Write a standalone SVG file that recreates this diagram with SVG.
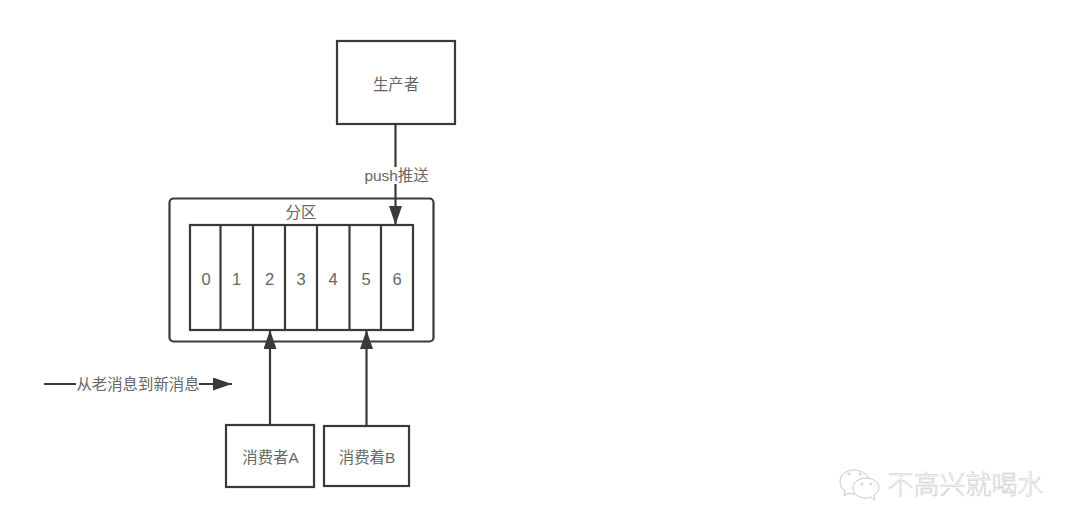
<svg xmlns="http://www.w3.org/2000/svg" width="1080" height="532" viewBox="0 0 1080 532">
<style>
.b{fill:#fff;stroke:#3a3a3a;stroke-width:2.2}
.c{fill:none;stroke:#3a3a3a;stroke-width:2.2}
.t{font-family:"Liberation Sans","Noto Sans CJK SC",sans-serif;font-size:15.4px;fill:#666;text-anchor:middle}
.n{font-size:16.500px}
.w{font-family:"Noto Sans CJK SC",sans-serif;font-size:26px;font-weight:300;fill:#fff;stroke:#c4c4c4;stroke-width:.5;text-anchor:middle}
</style>
<defs>
<marker id="a" markerUnits="userSpaceOnUse" markerWidth="20" markerHeight="14" refX="19" refY="6.500" orient="auto"><path d="M0 0L19 6.500L0 13Z" fill="#3a3a3a"/></marker>
</defs>
<rect width="1080" height="532" fill="#fff"/>
<g id="partition">
<rect class="b" x="169.500" y="198.500" width="264" height="143" rx="4"/>
<text class="t" x="301" y="218">分区</text>
</g>
<g id="cells">
<rect class="b" x="190" y="225" width="223" height="105"/>
<path class="c" d="M220.500 225V330M253 225V330M285 225V330M317 225V330M349.500 225V330M381 225V330"/>
<text class="t n" x="206" y="285">0</text><text class="t n" x="236.500" y="285">1</text><text class="t n" x="269.500" y="285">2</text><text class="t n" x="301" y="285">3</text><text class="t n" x="333" y="285">4</text><text class="t n" x="366" y="285">5</text><text class="t n" x="397" y="285">6</text>
</g>
<g id="producer"><rect class="b" x="337" y="41" width="118" height="83"/><text class="t" x="396" y="90">生产者</text></g>
<g id="consumerA"><rect class="b" x="226" y="425" width="88" height="62"/><text class="t" x="270.500" y="463">消费者A</text></g>
<g id="consumerB"><rect class="b" x="324" y="426" width="85" height="60"/><text class="t" x="367" y="463">消费着B</text></g>
<g id="connectors">
<path class="c" d="M395.500 124V225" marker-end="url(#a)"/>
<path class="c" d="M270 425V330" marker-end="url(#a)"/>
<path class="c" d="M366.500 426V330" marker-end="url(#a)"/>
<path class="c" d="M44 384H232" marker-end="url(#a)"/>
<rect x="76" y="376" width="123" height="16" fill="#fff"/>
<rect x="362" y="167" width="68" height="17" fill="#fff"/>
<text class="t" x="396.500" y="181">push推送</text>
<text class="t" x="138" y="390">从老消息到新消息</text>
</g>
<g id="watermark" fill="#fff" stroke="#c8c8c8" stroke-width="1">
<path d="M854 470c-8 0-14 5-14 12 0 4 2 7 5 9l-1 5 5-3c2 1 4 1 6 1-1-7 5-14 14-15-2-5-8-9-15-9z"/>
<path d="M866 478c-7 0-13 4-13 10s6 10 13 10c2 0 3 0 5-1l4 3-1-5c3-2 5-4 5-7 0-6-6-10-13-10z"/>
<circle cx="849" cy="474" r="1"/><circle cx="860" cy="474" r="1"/><circle cx="862" cy="484" r="1"/><circle cx="871" cy="484" r="1"/>
<text class="w" x="965.500" y="494">不高兴就喝水</text>
</g>
</svg>
